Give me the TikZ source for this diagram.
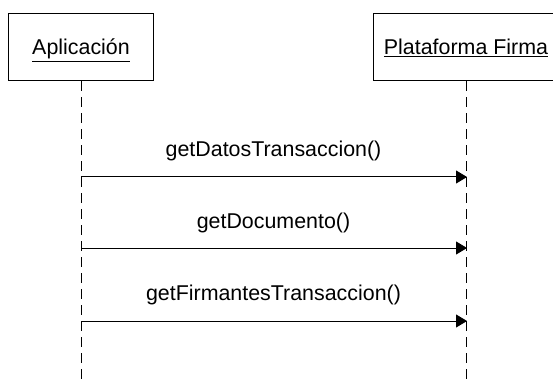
\documentclass[tikz,border=0pt]{standalone}
\usepackage{fontspec}
\setmainfont{Liberation Sans}
\usetikzlibrary{arrows.meta}
\begin{document}
\begin{tikzpicture}[x=1pt,y=-1pt,
  objbox/.style={draw=black,line width=1pt,fill=white,minimum height=67.4pt,inner sep=0pt,
    text height=16pt,text depth=0pt,font=\fontsize{21.4}{25}\selectfont},
  lifeline/.style={line width=1pt,dash pattern=on 10pt off 6pt},
  msg/.style={line width=1pt,-{Triangle[length=11pt,width=13pt]}},
  msglabel/.style={anchor=base,inner sep=0pt,font=\fontsize{21.4}{25}\selectfont}]
\useasboundingbox (0,0) rectangle (553,379);
\node[objbox,minimum width=145.4pt] (app) at (81,47) {\underline{Aplicación}};
\node[objbox,minimum width=185.4pt] (pf) at (466,47) {\underline{Plataforma Firma}};
\coordinate (append) at (81,379);
\coordinate (pfend) at (466,379);
\draw[lifeline] (app.south) -- (append);
\draw[lifeline] (pf.south) -- (pfend);
\coordinate (a1) at (81,177);
\coordinate (b1) at (467,177);
\coordinate (a2) at (81,248);
\coordinate (b2) at (467,248);
\coordinate (a3) at (81,321);
\coordinate (b3) at (467,321);
\draw[msg] (a1) -- (b1);
\draw[msg] (a2) -- (b2);
\draw[msg] (a3) -- (b3);
\node[msglabel] (l1) at (273.5,157) {getDatosTransaccion()};
\node[msglabel] (l2) at (273.5,228) {getDocumento()};
\node[msglabel] (l3) at (273.5,300) {getFirmantesTransaccion()};
\end{tikzpicture}
\end{document}
